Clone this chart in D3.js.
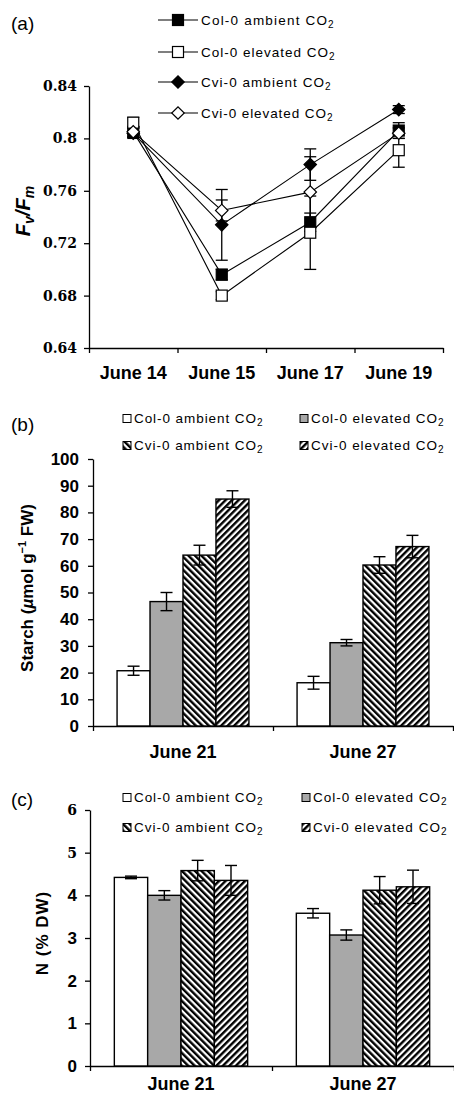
<!DOCTYPE html>
<html lang="en">
  <head>
    <meta charset="utf-8">
    <title>Fv/Fm, starch and N</title>
    <script src="https://d3js.org/d3.v7.js"></script>
    <style>
      body { margin: 0; background: #fff; }
      text { font-family: "Liberation Sans", Arial, sans-serif; }
    </style>
  </head>
  <body>
    <script>

  // canvas
  var w = 454;
  var h = 1100;

  // series (each name is followed by a subscript 2)
  var seriesNames = ["Col-0 ambient CO", "Col-0 elevated CO", "Cvi-0 ambient CO", "Cvi-0 elevated CO"];

  // panel (a): Fv/Fm
  var datesA = ["June 14", "June 15", "June 17", "June 19"];
  var fvfmColAmb  = [0.805, 0.696, 0.736, 0.806];
  var fvfmColElev = [0.812, 0.680, 0.728, 0.791];
  var fvfmCviAmb  = [0.804, 0.734, 0.780, 0.822];
  var fvfmCviElev = [0.805, 0.745, 0.759, 0.804];
  var errColAmb   = [0.004, 0.004, 0.007, 0.006];
  var errColElev  = [0.004, 0.003, 0.028, 0.013];
  var errCviAmb   = [0.004, 0.027, 0.012, 0.003];
  var errCviElev  = [0.004, 0.008, 0.027, 0.004];
  var ticksA = [0.64, 0.68, 0.72, 0.76, 0.8, 0.84];
  var tickLabelsA = ["0.64", "0.68", "0.72", "0.76", "0.8", "0.84"];

  // panel (b): starch
  var datesB = ["June 21", "June 27"];
  var starchColAmb  = [20.7, 16.2];
  var starchColElev = [46.6, 31.2];
  var starchCviAmb  = [64.0, 60.3];
  var starchCviElev = [85.0, 67.2];
  var starchErrColAmb  = [1.7, 2.4];
  var starchErrColElev = [3.4, 1.2];
  var starchErrCviAmb  = [3.7, 3.1];
  var starchErrCviElev = [3.1, 4.2];
  var ticksB = [0, 10, 20, 30, 40, 50, 60, 70, 80, 90, 100];

  // panel (c): N
  var nColAmb  = [4.42, 3.58];
  var nColElev = [4.00, 3.07];
  var nCviAmb  = [4.58, 4.12];
  var nCviElev = [4.35, 4.20];
  var nErrColAmb  = [0.03, 0.11];
  var nErrColElev = [0.11, 0.12];
  var nErrCviAmb  = [0.24, 0.32];
  var nErrCviElev = [0.35, 0.39];
  var ticksC = [0, 1, 2, 3, 4, 5, 6];

  var svg = d3.select("body")
    .append("svg")
    .attr("width", w)
    .attr("height", h);

  svg.append("rect").attr("width", w).attr("height", h).attr("fill", "#fff");

  // hatch patterns
  var defs = svg.append("defs");
  function hatch(id, angle) {
    var p = defs.append("pattern")
      .attr("id", id)
      .attr("width", 4.6)
      .attr("height", 4.6)
      .attr("patternUnits", "userSpaceOnUse")
      .attr("patternTransform", "rotate(" + angle + ")");
    p.append("rect").attr("width", 4.6).attr("height", 4.6).attr("fill", "#fff");
    p.append("rect").attr("width", 2.4).attr("height", 4.6).attr("fill", "#000");
  }
  hatch("hatchDown", -45);
  hatch("hatchUp", 45);

  var barFills = ["#fff", "#a8a8a8", "url(#hatchDown)", "url(#hatchUp)"];

  function styleAxis(g) {
    g.selectAll("path, line").attr("stroke", "#000").attr("stroke-width", 1.3);
  }

  function panelLabel(txt, x, y) {
    svg.append("text").attr("x", x).attr("y", y)
      .style("font-size", "19px").text(txt);
  }

  function legendText(x, y, name, len) {
    svg.append("text").attr("x", x).attr("y", y)
      .attr("textLength", len).attr("lengthAdjust", "spacing")
      .style("font-size", "13.5px").text(name);
    svg.append("text").attr("x", x + len + 1).attr("y", y + 3)
      .style("font-size", "10px").text("2");
  }

  // ---------------- panel (a) ----------------
  var seriesA = [
    { mean: fvfmColAmb,  err: errColAmb,  fill: "#000", shape: "square" },
    { mean: fvfmColElev, err: errColElev, fill: "#fff", shape: "square" },
    { mean: fvfmCviAmb,  err: errCviAmb,  fill: "#000", shape: "diamond" },
    { mean: fvfmCviElev, err: errCviElev, fill: "#fff", shape: "diamond" }
  ];

  var xA = d3.scaleBand().domain(datesA).range([89, 443]);
  var xEdgeA = d3.scaleLinear().domain([0, datesA.length]).range([89, 443]);
  var yA = d3.scaleLinear().domain([0.64, 0.84]).range([348, 86]);
  var cx = function (i) { return xA(datesA[i]) + xA.bandwidth() / 2; };

  svg.append("g")
    .attr("transform", "translate(89,0)")
    .call(d3.axisLeft(yA).tickValues(ticksA).tickSize(5).tickSizeOuter(0)
      .tickFormat(function (d, i) { return tickLabelsA[i]; }))
    .call(styleAxis)
    .call(function (g) {
      g.selectAll("text")
        .style("font-family", "'DejaVu Serif', serif")
        .style("font-weight", "bold")
        .style("font-size", "14px")
        .attr("fill", "#000")
        .attr("x", -12);
    });

  svg.append("g")
    .attr("transform", "translate(0,348)")
    .call(d3.axisBottom(xEdgeA).ticks(4).tickSize(5).tickSizeOuter(0).tickFormat(""))
    .call(styleAxis);

  svg.selectAll(".xlabA")
    .data(datesA)
    .enter()
    .append("text")
    .attr("x", function (d) { return xA(d) + xA.bandwidth() / 2; })
    .attr("y", 379)
    .attr("text-anchor", "middle")
    .style("font-size", "18px")
    .style("font-weight", "bold")
    .text(function (d) { return d; });

  // y title Fv/Fm
  var tA = svg.append("text")
    .attr("transform", "translate(30,211) rotate(-90)")
    .attr("text-anchor", "middle")
    .style("font-size", "20px")
    .style("font-weight", "bold")
    .style("font-style", "italic");
  tA.append("tspan").text("F");
  tA.append("tspan").attr("dy", 4).style("font-size", "14px").text("v");
  tA.append("tspan").attr("dy", -4).text("/F");
  tA.append("tspan").attr("dy", 4).style("font-size", "14px").text("m");

  var line = d3.line()
    .x(function (d, i) { return cx(i); })
    .y(function (d) { return yA(d); });

  svg.selectAll(".lineA")
    .data(seriesA)
    .enter()
    .append("path")
    .attr("d", function (s) { return line(s.mean); })
    .attr("fill", "none")
    .attr("stroke", "#000")
    .attr("stroke-width", 1.1);

  seriesA.forEach(function (s) {
    var g = svg.append("g");
    s.mean.forEach(function (m, i) {
      var x = cx(i);
      var y1 = yA(m - s.err[i]), y2 = yA(m + s.err[i]);
      g.append("line").attr("x1", x).attr("x2", x).attr("y1", y1).attr("y2", y2)
        .attr("stroke", "#000").attr("stroke-width", 1.3);
      [y1, y2].forEach(function (yy) {
        g.append("line").attr("x1", x - 6).attr("x2", x + 6).attr("y1", yy).attr("y2", yy)
          .attr("stroke", "#000").attr("stroke-width", 1.3);
      });
    });
  });

  function marker(g, shape, fill, x, y) {
    if (shape === "square") {
      g.append("rect").attr("x", x - 5.5).attr("y", y - 5.5)
        .attr("width", 11).attr("height", 11)
        .attr("fill", fill).attr("stroke", "#000").attr("stroke-width", 1.2);
    } else {
      g.append("rect").attr("x", -4.4).attr("y", -4.4)
        .attr("width", 8.8).attr("height", 8.8)
        .attr("transform", "translate(" + x + "," + y + ") rotate(45)")
        .attr("fill", fill).attr("stroke", "#000").attr("stroke-width", 1.2);
    }
  }

  seriesA.forEach(function (s) {
    var g = svg.append("g");
    s.mean.forEach(function (m, i) { marker(g, s.shape, s.fill, cx(i), yA(m)); });
  });

  // legend (a)
  var legRowsA = [20, 52, 82, 113];
  var legLenA = [126, 127, 123, 125];
  seriesA.forEach(function (s, i) {
    var y = legRowsA[i];
    svg.append("line").attr("x1", 158).attr("x2", 198).attr("y1", y).attr("y2", y)
      .attr("stroke", "#000").attr("stroke-width", 1.1);
    marker(svg, s.shape, s.fill, 178, y);
    legendText(201, y + 5, seriesNames[i], legLenA[i]);
  });

  panelLabel("(a)", 11, 30);

  // ---------------- bar panels ----------------
  function barPanel(cfg) {
    var x0 = d3.scaleBand().domain(datesB).range([cfg.left, cfg.right]);
    var x1 = d3.scaleBand().domain(d3.range(4)).range([0, x0.bandwidth()]).paddingOuter(0.73);
    var xEdge = d3.scaleLinear().domain([0, datesB.length]).range([cfg.left, cfg.right]);
    var y = d3.scaleLinear().domain(cfg.domain).range([cfg.bottom, cfg.top]);

    svg.append("g")
      .attr("transform", "translate(" + cfg.left + ",0)")
      .call(d3.axisLeft(y).tickValues(cfg.ticks).tickSize(5).tickSizeOuter(0).tickFormat(d3.format("d")))
      .call(styleAxis)
      .call(function (g) {
        g.selectAll("text")
          .style("font-family", function (d) { return cfg.serif(d) ? "'DejaVu Serif', serif" : "'Liberation Sans', Arial, sans-serif"; })
          .style("font-size", function (d) { return cfg.serif(d) ? "14px" : "17px"; })
          .style("font-weight", "bold")
          .attr("fill", "#000")
          .attr("x", -cfg.labelGap);
      });

    svg.append("g")
      .attr("transform", "translate(0," + cfg.bottom + ")")
      .call(d3.axisBottom(xEdge).ticks(2).tickSize(5).tickSizeOuter(0).tickFormat(""))
      .call(styleAxis);

    svg.selectAll(".xlab" + cfg.id)
      .data(datesB)
      .enter()
      .append("text")
      .attr("x", function (d) { return x0(d) + x0.bandwidth() / 2; })
      .attr("y", cfg.labelY)
      .attr("text-anchor", "middle")
      .style("font-size", "18px")
      .style("font-weight", "bold")
      .text(function (d) { return d; });

    var groups = svg.selectAll(".grp" + cfg.id)
      .data(datesB)
      .enter()
      .append("g")
      .attr("transform", function (d) { return "translate(" + x0(d) + ",0)"; });

    groups.each(function (d, di) {
      var g = d3.select(this);
      cfg.means.forEach(function (arr, si) {
        var v = arr[di], e = cfg.errs[si][di];
        var bx = x1(si), bw = x1.bandwidth();
        g.append("rect")
          .attr("x", bx).attr("y", y(v))
          .attr("width", bw).attr("height", y(0) - y(v))
          .attr("fill", barFills[si])
          .attr("stroke", "#000").attr("stroke-width", 1.4);
        var mx = bx + bw / 2;
        g.append("line").attr("x1", mx).attr("x2", mx).attr("y1", y(v - e)).attr("y2", y(v + e))
          .attr("stroke", "#000").attr("stroke-width", 1.4);
        [v - e, v + e].forEach(function (vv) {
          g.append("line").attr("x1", mx - 6).attr("x2", mx + 6).attr("y1", y(vv)).attr("y2", y(vv))
            .attr("stroke", "#000").attr("stroke-width", 1.4);
        });
      });
    });

    // legend
    cfg.legend.forEach(function (p, i) {
      svg.append("rect").attr("x", p[0]).attr("y", p[1] - 8.5)
        .attr("width", 8).attr("height", 8)
        .attr("fill", barFills[i]).attr("stroke", "#000").attr("stroke-width", 1);
      legendText(p[0] + 11, p[1], seriesNames[i], p[2]);
    });
  }

  barPanel({
    id: "B", left: 93, right: 453, top: 459, bottom: 726,
    domain: [0, 100], ticks: ticksB, labelGap: 14, labelY: 758,
    serif: function () { return false; },
    means: [starchColAmb, starchColElev, starchCviAmb, starchCviElev],
    errs: [starchErrColAmb, starchErrColElev, starchErrCviAmb, starchErrCviElev],
    legend: [[123, 423, 122], [300, 423, 126], [123, 450, 122], [300, 450, 126]]
  });

  var tB = svg.append("text")
    .attr("transform", "translate(33,588) rotate(-90)")
    .attr("text-anchor", "middle")
    .style("font-size", "17px")
    .style("font-weight", "bold");
  tB.append("tspan").text("Starch (");
  tB.append("tspan").style("font-style", "italic").text("\u00b5");
  tB.append("tspan").text("mol g");
  tB.append("tspan").attr("dy", -7).style("font-size", "11px").text("\u22121");
  tB.append("tspan").attr("dy", 7).text(" FW)");

  panelLabel("(b)", 11, 431);

  barPanel({
    id: "C", left: 90, right: 454, top: 810, bottom: 1066,
    domain: [0, 6], ticks: ticksC, labelGap: 13, labelY: 1090,
    serif: function (d) { return d >= 5; },
    means: [nColAmb, nColElev, nCviAmb, nCviElev],
    errs: [nErrColAmb, nErrColElev, nErrCviAmb, nErrCviElev],
    legend: [[123, 802, 122], [302, 802, 127], [123, 832, 122], [302, 832, 127]]
  });

  svg.append("text")
    .attr("transform", "translate(48,933) rotate(-90)")
    .attr("text-anchor", "middle")
    .style("font-size", "17px")
    .style("font-weight", "bold")
    .style("letter-spacing", "1px")
    .text("N (% DW)");

  panelLabel("(c)", 11, 806);

    </script>
  </body>
</html>
